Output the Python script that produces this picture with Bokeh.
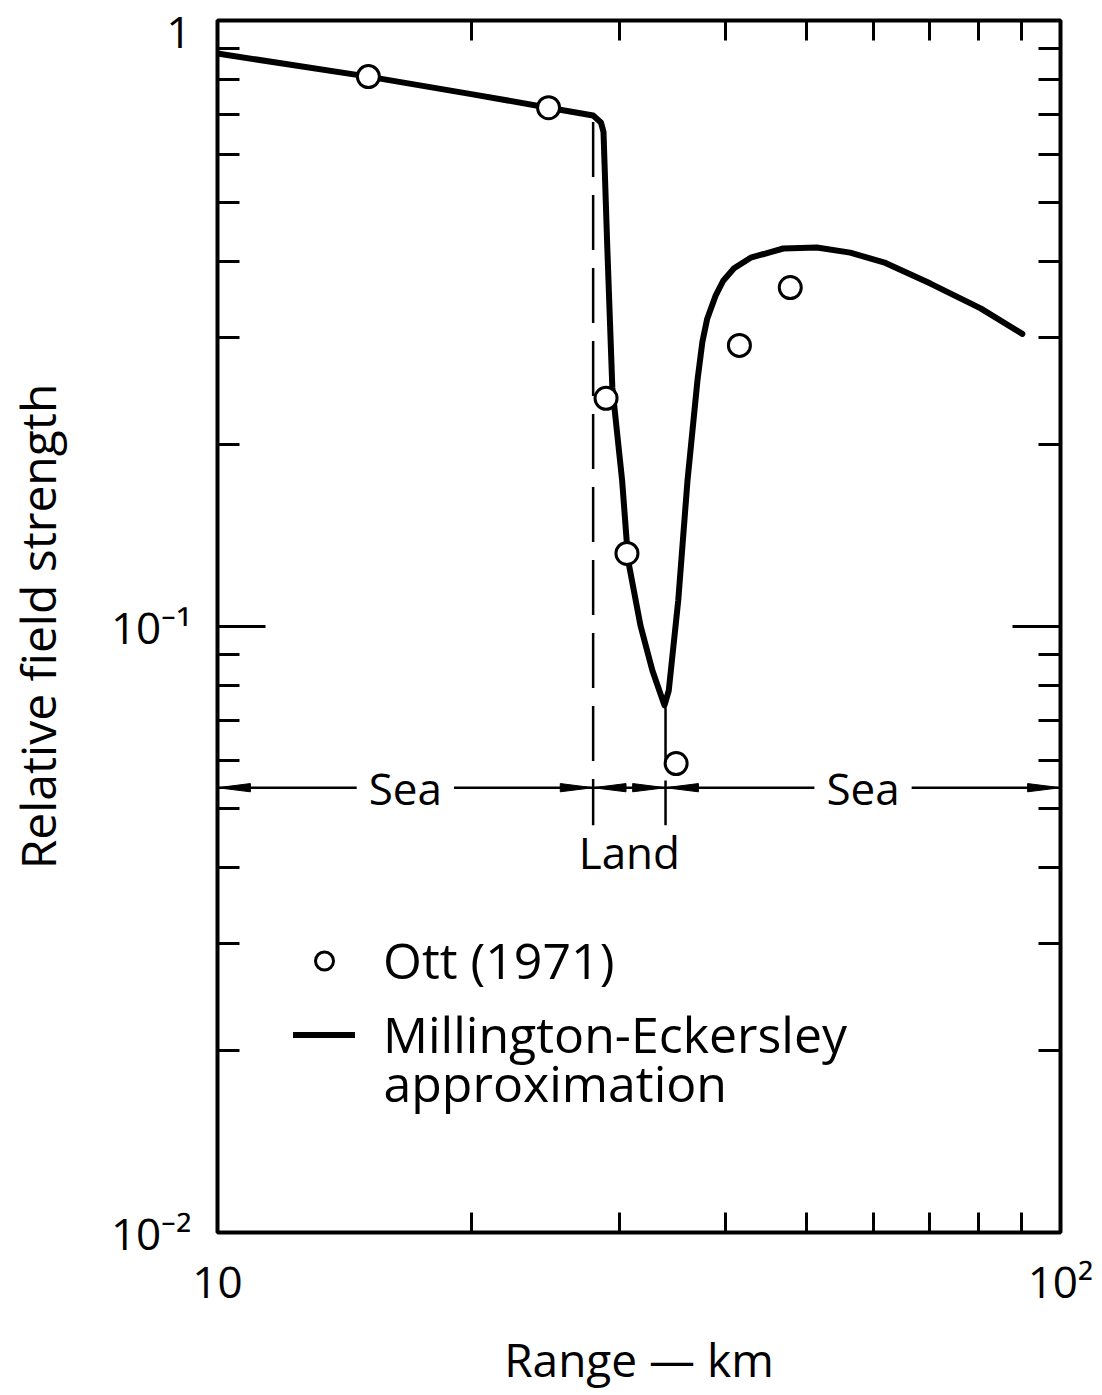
from bokeh.plotting import figure
from bokeh.models import LogAxis, FixedTicker, Legend, LegendItem, Label
from bokeh.embed import file_html
from bokeh.resources import INLINE

FONT = "Open Sans"

# Measured relative field strength, Ott (1971)
ott_range_km = [15.1, 24.7, 28.9, 30.6, 35.0, 41.6, 47.8]
ott_field = [0.808, 0.718, 0.238, 0.132, 0.0594, 0.291, 0.3625]

# Millington-Eckersley approximation
me_range_km = [10.0, 15.1, 20.0, 24.7, 27.9, 28.5, 28.7, 29.0, 29.4, 30.2,
               30.7, 31.75, 32.8, 33.9, 34.3, 35.2, 36.1, 37.1, 37.6, 38.1, 39.0, 39.8,
               41.0, 42.9, 46.9, 51.4, 56.3, 62.0, 70.1, 80.4, 90.1]
me_field = [0.882, 0.808, 0.756, 0.718, 0.697, 0.679, 0.655, 0.422, 0.248, 0.174,
            0.1285, 0.1004, 0.0846, 0.0741, 0.0784, 0.1104, 0.174, 0.255, 0.295, 0.322, 0.352, 0.372,
            0.390, 0.406, 0.4205, 0.422, 0.414, 0.398, 0.368, 0.335, 0.304]

# Path zones: sea / land / sea, bounded at these ranges (km)
zone_bounds_km = [10.0, 27.9, 34.0, 100.0]
zone_names = ["Sea", "Land", "Sea"]

# Axis ticks and labels
x_major = [10, 100]
x_minor = [20, 30, 40, 50, 60, 70, 80, 90]
x_labels = {10: "10", 100: "10²"}
y_major = [0.01, 0.1, 1]
y_minor = [0.02, 0.03, 0.04, 0.05, 0.06, 0.07, 0.08, 0.09,
           0.2, 0.3, 0.4, 0.5, 0.6, 0.7, 0.8, 0.9]
y_labels = {1: "1", 0.1: "10⁻¹", 0.01: "10⁻²"}

# Drawing constants for the zone dimension line
DIM_Y = 0.0542          # level of the dimension line
LAND_LABEL_Y = 0.0424   # level of the "Land" caption
DASH_BOTTOM = 0.047     # lower end of the boundary dashes
DASH_TOPS = [0.68, 0.0735]
HEAD_LEN = 0.039        # arrow head length, decades of x
HEAD_HALF = 0.0068      # arrow head half width, decades of y

p = figure(
    x_axis_type="log", y_axis_type="log",
    x_range=(10, 100), y_range=(0.01, 1),
    frame_width=843, frame_height=1212,
    min_border_left=217, min_border_top=20, min_border_right=42, min_border_bottom=163,
    output_backend="svg", toolbar_location=None,
    background_fill_color="white", border_fill_color="white",
)
p.grid.visible = False
p.outline_line_color = "black"
p.outline_line_width = 4

xa = p.below[0]
ya = p.left[0]
top_axis = LogAxis()
right_axis = LogAxis()
p.add_layout(top_axis, "above")
p.add_layout(right_axis, "right")

x_ticker = FixedTicker(ticks=x_major, minor_ticks=x_minor)
y_ticker = FixedTicker(ticks=y_major, minor_ticks=y_minor)

for ax in [xa, top_axis]:
    ax.ticker = x_ticker
    ax.major_tick_in = 0
    ax.minor_tick_in = 20
for ax in [ya, right_axis]:
    ax.ticker = y_ticker
    ax.major_tick_in = 48
    ax.minor_tick_in = 22
for ax in [xa, ya, top_axis, right_axis]:
    ax.axis_line_color = None
    ax.major_tick_out = 0
    ax.minor_tick_out = 0
    ax.major_tick_line_width = 3
    ax.minor_tick_line_width = 3
    ax.major_tick_line_color = "black"
    ax.minor_tick_line_color = "black"
    ax.major_label_text_font = FONT
    ax.major_label_text_color = "black"
    ax.axis_label_text_font = FONT
    ax.axis_label_text_font_style = "normal"
    ax.axis_label_text_color = "black"

for ax in [top_axis, right_axis]:
    ax.major_label_standoff = 0
    ax.major_label_text_font_size = "1px"
top_axis.major_label_overrides = {10: "", 100: ""}
right_axis.major_label_overrides = {1: "", 0.1: "", 0.01: ""}

xa.major_label_overrides = x_labels
xa.major_label_text_font_size = "44px"
xa.major_label_standoff = 18
xa.axis_label = "Range — km"
xa.axis_label_text_font_size = "46px"
xa.axis_label_standoff = 14

ya.major_label_overrides = y_labels
ya.major_label_text_font_size = "44px"
ya.major_label_standoff = 26
ya.axis_label = "Relative field strength"
ya.axis_label_text_font_size = "48px"
ya.axis_label_standoff = 38

# Boundary dashes between sea and land
for xb, top in zip(zone_bounds_km[1:3], DASH_TOPS):
    p.line([xb, xb], [top, DASH_BOTTOM], line_color="black", line_width=2.5,
           line_dash="55 18")

# Dimension line with arrow heads at each zone end
p.line([zone_bounds_km[0], zone_bounds_km[-1]], [DIM_Y, DIM_Y],
       line_color="black", line_width=2.5)
head_xs, head_ys = [], []
for a, b in zip(zone_bounds_km[:-1], zone_bounds_km[1:]):
    head_xs.append([a, a * 10 ** HEAD_LEN, a * 10 ** HEAD_LEN])
    head_ys.append([DIM_Y, DIM_Y * 10 ** HEAD_HALF, DIM_Y / 10 ** HEAD_HALF])
    head_xs.append([b, b / 10 ** HEAD_LEN, b / 10 ** HEAD_LEN])
    head_ys.append([DIM_Y, DIM_Y * 10 ** HEAD_HALF, DIM_Y / 10 ** HEAD_HALF])
p.patches(head_xs, head_ys, fill_color="black", line_color="black", line_width=1)

for (a, b), name in zip(zip(zone_bounds_km[:-1], zone_bounds_km[1:]), zone_names):
    mid = (a * b) ** 0.5
    if name == "Land":
        lab = Label(x=mid, y=LAND_LABEL_Y, text=name, text_align="center",
                    text_baseline="middle", text_font=FONT, text_font_size="44px",
                    text_color="black")
    else:
        lab = Label(x=mid, y=DIM_Y, text=name, text_align="center",
                    text_baseline="middle", text_font=FONT, text_font_size="44px",
                    text_color="black", background_fill_color="white", padding=12)
    p.add_layout(lab)

# Curve and measurements
r_line = p.line(me_range_km, me_field, line_color="black", line_width=6,
                line_join="round", line_cap="round")
r_pts = p.scatter(ott_range_km, ott_field, marker="circle", size=22,
                  fill_color="white", line_color="black", line_width=3)

legend = Legend(
    items=[LegendItem(label="Ott (1971)", renderers=[r_pts]),
           LegendItem(label="Millington-Eckersley", renderers=[r_line])],
    location=(76, 164),
    background_fill_alpha=0, border_line_color=None,
    label_text_font=FONT, label_text_font_size="50px", label_text_color="black",
    glyph_width=62, glyph_height=45, label_standoff=28, spacing=6,
    padding=0, margin=0,
)
p.add_layout(legend)
# second line of the curve's legend entry
p.add_layout(Label(x=166, y=150, x_units="screen", y_units="screen",
                   text="approximation", text_align="left", text_baseline="middle",
                   text_font=FONT, text_font_size="50px", text_color="black"))

open("out.html", "w").write(file_html(p, INLINE))
